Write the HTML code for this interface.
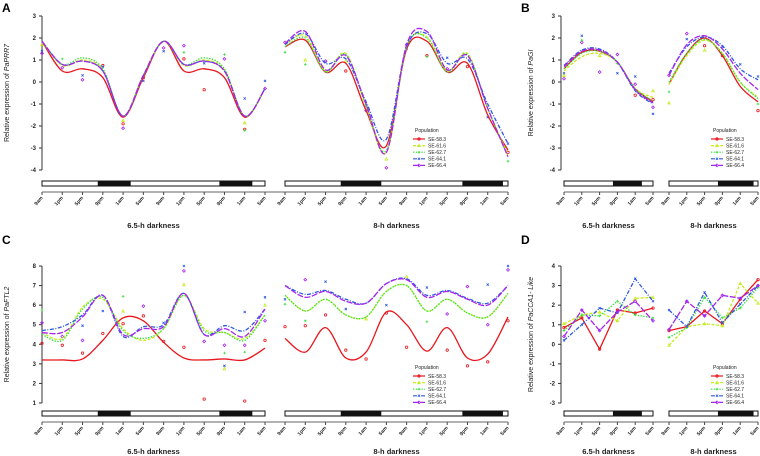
<!DOCTYPE html>
<html><head><meta charset="utf-8">
<style>
html,body{margin:0;padding:0;background:#fff;}
svg{display:block;font-family:"Liberation Sans",Arial,sans-serif;}
</style></head>
<body>
<svg id="fig" width="760" height="456" viewBox="0 0 760 456" xmlns="http://www.w3.org/2000/svg">
<text x="2" y="12" font-size="12" font-weight="bold">A</text>
<text x="521" y="12" font-size="12" font-weight="bold">B</text>
<text x="2" y="244" font-size="12" font-weight="bold">C</text>
<text x="521" y="244" font-size="12" font-weight="bold">D</text>
</svg>
<script>
// ---------- data ----------
const seriesNames = ["SE-58.3","SE-61.6","SE-62.7","SE-64.1","SE-66.4"];
const timeLabels12 = ["9am","1pm","5pm","9pm","1am","5am","9am","1pm","5pm","9pm","1am","5am"];
const timeLabels6 = ["9am","1pm","5pm","9pm","1am","5am"];
const ticksA = [3,2,1,0,-1,-2,-3,-4];
const ticksC = [8,7,6,5,4,3,2,1];
const ticksD = [4,3,2,1,0,-1,-2,-3];
// darkness intervals in hours from 9am
const dark65Long = [[11,17.5],[35,41.5]];
const dark8Long = [[11,19],[35,43]];
const dark65Short = [[11,17.5]];
const dark8Short = [[11,19]];

// Panel A (PaPRR7)
const aLeftRed    = [1.85,0.5,0.6,0.2,-1.6,0.2,1.85,0.5,0.6,0.2,-1.6,-0.3];
const aLeftYellow = [1.85,0.75,1.0,0.55,-1.55,0.3,1.85,0.75,1.0,0.55,-1.55,-0.3];
const aLeftGreen  = [1.85,0.8,1.1,0.6,-1.55,0.3,1.85,0.8,1.1,0.6,-1.55,-0.3];
const aLeftBlue   = [1.85,0.8,0.95,0.5,-1.55,0.3,1.85,0.8,0.95,0.5,-1.55,-0.3];
const aLeftPurple = [1.85,0.8,0.95,0.5,-1.55,0.3,1.85,0.8,0.95,0.5,-1.55,-0.3];
const aRightRed    = [1.6,1.9,0.45,0.85,-1.3,-2.9,1.5,1.85,0.45,0.85,-1.5,-3.1];
const aRightYellow = [1.7,2.1,0.5,1.3,-1.1,-3.2,1.6,2.05,0.5,1.3,-1.2,-3.3];
const aRightGreen  = [1.6,2.0,0.45,1.25,-1.1,-3.1,1.6,2.0,0.45,1.25,-1.2,-3.4];
const aRightBlue   = [1.7,2.2,0.85,1.05,-0.9,-2.6,1.6,2.2,0.85,1.05,-1.0,-2.8];
const aRightPurple = [1.75,2.3,0.55,1.2,-1.0,-3.2,1.7,2.3,0.55,1.2,-1.2,-3.4];
const aPointsLeft = [[0,1.4,3],[0,1.3,4],[0,1.7,1],[1,1.05,2],[1,0.65,4],[2,0.1,4],[2,0.3,3],[3,0.75,0],[3,0.7,3],[4,-1.9,0],[4,-2.1,4],[4,-1.75,1],[5,0.2,0],[5,0.05,3],[6,1.4,3],[6,1.55,4],[7,1.65,4],[7,1.35,2],[7,1.05,0],[8,-0.35,0],[8,0.85,3],[9,1.25,2],[9,1.05,4],[10,-0.75,3],[10,-2.15,0],[10,-2.2,2],[10,-1.85,1],[11,0.05,3],[11,-0.3,4]];
const aPointsRight = [[0,1.35,2],[0,1.8,4],[1,0.8,2],[1,1.0,1],[2,0.9,3],[2,0.95,4],[3,0.5,0],[3,0.95,1],[4,-1.1,3],[4,-1.3,4],[5,-3.9,4],[5,-3.5,1],[6,1.7,4],[6,1.5,3],[7,1.2,0],[7,1.15,2],[8,1.1,3],[8,0.6,4],[9,0.7,0],[10,-1.6,3],[11,-2.8,3],[11,-3.6,2],[11,-3.2,0]];

// Panel B (PaGI)
const bLeftRed    = [0.6,1.35,1.4,0.9,-0.3,-0.9];
const bLeftYellow = [0.5,1.15,1.3,0.9,-0.3,-0.7];
const bLeftGreen  = [0.6,1.3,1.4,0.9,-0.3,-0.85];
const bLeftBlue   = [0.75,1.45,1.5,0.9,-0.4,-1.0];
const bLeftPurple = [0.7,1.4,1.45,0.9,-0.35,-0.95];
const bRightRed    = [-0.1,1.3,2.0,1.2,-0.2,-0.9];
const bRightYellow = [-0.1,1.2,1.9,1.3,0.0,-0.7];
const bRightGreen  = [0.0,1.3,1.95,1.3,0.0,-0.75];
const bRightBlue   = [0.4,1.6,2.05,1.65,0.6,0.1];
const bRightPurple = [0.3,1.7,2.1,1.5,0.4,-0.35];
const bPointsLeft = [[0,0.15,4],[0,0.4,3],[0,0.3,1],[1,2.1,3],[1,1.8,4],[1,1.9,2],[2,0.45,4],[2,1.2,1],[3,1.25,4],[3,0.85,2],[3,0.4,3],[4,-0.6,0],[4,0.25,3],[4,-0.1,4],[5,-1.45,3],[5,-1.15,4],[5,-0.4,1],[5,-0.8,0]];
const bPointsRight = [[0,-0.95,1],[0,-0.45,2],[0,0.3,4],[1,2.2,4],[1,1.95,3],[2,1.45,1],[2,1.65,0],[3,1.2,0],[3,1.6,3],[4,0.8,3],[5,0.25,3],[5,-1.3,0],[5,-1.0,2]];

// Panel C (PaFTL2)
const cLeftRed    = [3.2,3.2,3.25,4.2,5.35,5.2,4.1,3.3,3.2,3.25,3.2,3.8];
const cLeftYellow = [4.6,4.3,5.9,6.3,4.8,4.2,4.8,6.5,4.8,4.6,4.3,5.5];
const cLeftGreen  = [4.5,4.2,5.8,6.4,4.7,4.3,4.8,6.5,4.7,4.6,4.2,5.5];
const cLeftBlue   = [4.7,4.9,5.5,6.5,4.4,4.9,5.0,6.6,4.5,4.95,4.7,5.8];
const cLeftPurple = [4.6,4.6,5.4,6.5,4.5,4.8,4.9,6.6,4.5,4.8,4.4,5.8];
const cRightRed    = [4.3,3.6,4.85,3.3,3.6,5.65,5.0,3.65,4.85,3.3,3.5,5.4];
const cRightYellow = [6.5,5.7,6.3,5.5,5.4,6.7,7.0,5.7,6.3,5.6,5.4,6.6];
const cRightGreen  = [6.5,5.7,6.3,5.5,5.4,6.7,7.0,5.7,6.3,5.6,5.4,6.6];
const cRightBlue   = [7.0,6.55,6.75,6.3,6.1,7.1,7.35,6.5,6.75,6.35,6.1,7.0];
const cRightPurple = [7.0,6.4,6.7,6.2,6.1,7.1,7.3,6.4,6.7,6.3,6.0,7.0];
const cPointsLeft = [[0,5.75,2],[0,4.05,0],[0,5.1,4],[1,3.95,0],[1,4.4,4],[2,3.55,0],[2,4.2,4],[2,4.95,3],[3,4.55,0],[3,5.7,3],[4,6.45,2],[4,5.05,0],[4,5.7,1],[5,5.95,4],[5,5.45,0],[6,4.15,0],[6,5.1,3],[7,8.0,3],[7,7.75,4],[7,7.05,1],[7,3.85,0],[8,1.2,0],[8,4.15,4],[9,3.95,4],[9,2.75,1],[9,2.9,3],[9,3.55,2],[10,1.1,0],[10,5.65,3],[10,3.95,4],[10,3.6,2],[11,6.4,3],[11,6.0,1],[11,4.2,0],[11,5.2,4]];
const cPointsRight = [[0,4.9,0],[0,6.3,3],[0,6.05,2],[1,7.3,4],[1,4.95,0],[1,5.2,2],[2,7.2,3],[2,5.5,0],[3,5.8,3],[3,3.7,0],[4,3.25,0],[4,5.3,1],[5,6.0,3],[5,5.6,0],[6,7.45,1],[6,3.85,0],[7,6.9,3],[7,5.15,2],[8,3.7,0],[8,5.55,4],[9,6.95,4],[9,2.9,0],[10,7.05,3],[10,5.0,4],[10,3.1,0],[11,8.0,3],[11,7.8,4],[11,5.2,0]];

// Panel D (PaCCA1-Like)
const dLeftRed    = [0.85,1.35,-0.25,1.75,1.6,1.85];
const dLeftYellow = [1.05,1.5,1.65,1.2,2.35,2.4];
const dLeftGreen  = [0.7,1.5,1.45,2.2,1.5,1.35];
const dLeftBlue   = [0.2,1.0,1.85,1.6,3.35,2.2];
const dLeftPurple = [0.4,1.75,0.7,1.65,2.2,1.2];
const dRightRed    = [0.7,0.9,1.7,1.05,2.3,3.3];
const dRightYellow = [-0.05,0.9,1.05,0.95,3.1,2.1];
const dRightGreen  = [0.35,0.85,2.4,1.35,1.85,2.9];
const dRightBlue   = [1.75,0.9,2.65,1.1,2.05,3.0];
const dRightPurple = [0.75,2.2,1.45,2.5,2.35,3.0];

// ---------- styles ----------
const colors = ["#e8161e","#c6ec1c","#33e03a","#2e58e0","#a625ee"];
const dashes = ["", "3,1.6", "1.4,1.4", "4,1.5,1,1.5", "6,1.6"];
const NS = "http://www.w3.org/2000/svg";
const svg = document.getElementById("fig");

function mk(tag, attrs, parent){
  const e = document.createElementNS(NS, tag);
  for (const k in attrs) e.setAttribute(k, attrs[k]);
  (parent||svg).appendChild(e);
  return e;
}
function catmull(pts){
  let d = "M"+pts[0][0].toFixed(2)+","+pts[0][1].toFixed(2);
  for (let i=0;i<pts.length-1;i++){
    const p0=pts[Math.max(0,i-1)], p1=pts[i], p2=pts[i+1], p3=pts[Math.min(pts.length-1,i+2)];
    const c1x=p1[0]+(p2[0]-p0[0])/6, c1y=p1[1]+(p2[1]-p0[1])/6;
    const c2x=p2[0]-(p3[0]-p1[0])/6, c2y=p2[1]-(p3[1]-p1[1])/6;
    d += " C"+c1x.toFixed(2)+","+c1y.toFixed(2)+" "+c2x.toFixed(2)+","+c2y.toFixed(2)+" "+p2[0].toFixed(2)+","+p2[1].toFixed(2);
  }
  return d;
}
function marker(g, x, y, si){
  const c = colors[si];
  if (si===0){ const m = mk("circle",{cx:x,cy:y,r:1.2,fill:"none",stroke:c,"stroke-width":0.8},g);   }
  else if (si===1){ const m = mk("path",{d:`M${x-1.3},${y+1.1}L${x},${y-1.3}L${x+1.3},${y+1.1}Z`,fill:"none",stroke:c,"stroke-width":0.8},g);   }
  else if (si===2){ const m = mk("path",{d:`M${x-1.3},${y}H${x+1.3}M${x},${y-1.3}V${y+1.3}`,stroke:c,"stroke-width":0.8},g);   }
  else if (si===3){ const m = mk("path",{d:`M${x-1.1},${y-1.1}L${x+1.1},${y+1.1}M${x-1.1},${y+1.1}L${x+1.1},${y-1.1}`,stroke:c,"stroke-width":0.8},g);   }
  else { const m = mk("path",{d:`M${x},${y-1.4}L${x+1.4},${y}L${x},${y+1.4}L${x-1.4},${y}Z`,fill:"none",stroke:c,"stroke-width":0.8},g);   }
}

function drawPanel(p){
  const g = mk("g",{});
  
  
  const yScale = v => p.yTop + (p.ticks[0]-v)*(p.yBot-p.yTop)/(p.ticks[0]-p.ticks[p.ticks.length-1]);
  // y axis
  const ya = mk("line",{x1:p.axisX,y1:p.yTop,x2:p.axisX,y2:p.yBot,stroke:"#333","stroke-width":1},g);
   
  p.ticks.forEach(t=>{
    const y=yScale(t);
    const tl = mk("line",{x1:p.axisX-3,y1:y,x2:p.axisX,y2:y,stroke:"#333","stroke-width":1},g);
     
    const tx = mk("text",{x:p.axisX-6,y:y+2,"font-size":6,"font-weight":"bold","text-anchor":"end",fill:"#222"},g);
    tx.textContent = String(t);
     
  });
  // y title
  const yt = mk("text",{transform:`translate(${p.titleX},${(p.yTop+p.yBot)/2}) rotate(-90)`,"font-size":7,"text-anchor":"middle",fill:"#222"},g);
   
  yt.appendChild(document.createTextNode("Relative expression of "));
  const it = mk("tspan",{"font-style":"italic"},yt); it.textContent = p.gene;
  // x axis baseline
  const xa = mk("line",{x1:p.blocks[0].x0,y1:p.axisY,x2:p.blocks[p.blocks.length-1].x1,y2:p.axisY,stroke:"#666","stroke-width":1},g);
   
  p.blocks.forEach(b=>{
    const n = b.labels.length;
    const xScale = i => b.x0 + i*(b.x1-b.x0)/(n-1);
    const hScale = h => b.x0 + h*(b.x1-b.x0)/b.hours;
    // light/dark bar
    const bar = mk("rect",{x:b.x0,y:p.barY,width:b.x1-b.x0,height:5,fill:"#fff",stroke:"#111","stroke-width":1},g);
     
    b.dark.forEach(d=>{
      const r = mk("rect",{x:hScale(d[0]),y:p.barY,width:hScale(d[1])-hScale(d[0]),height:5,fill:"#111"},g);
       
    });
    b.labels.forEach((lb,i)=>{
      const x=xScale(i);
      const tk = mk("line",{x1:x,y1:p.axisY,x2:x,y2:p.axisY+3,stroke:"#444","stroke-width":1},g);
       
      const tx = mk("text",{transform:`translate(${x+1},${p.axisY+6}) rotate(-50)`,"font-size":5,"font-weight":"bold","text-anchor":"end",fill:"#222"},g);
      tx.textContent = lb;
       
    });
    const bt = mk("text",{x:(b.x0+b.x1)/2,y:p.blockTitleY,"font-size":7.5,"font-weight":"bold","text-anchor":"middle",fill:"#222"},g);
    bt.textContent = b.title;
     
    // points
    (b.points||[]).forEach(pt=>{ marker(g, xScale(pt[0]), yScale(pt[1]), pt[2]); });
    // series
    b.series.forEach((vals,si)=>{
      const pts = vals.map((v,i)=>[xScale(i),yScale(v)]);
      const d = p.straight ? "M"+pts.map(q=>q[0].toFixed(2)+","+q[1].toFixed(2)).join("L") : catmull(pts);
      const path = mk("path",{d:d,fill:"none",stroke:colors[si],"stroke-width":1.3,"stroke-dasharray":dashes[si]},g);
      
      
      if (p.straight) pts.forEach(q=>marker(g,q[0],q[1],si));
    });
  });
  // legend
  const lg = mk("g",{},g);
   
  const lt = mk("text",{x:p.legX+2,y:p.legY,"font-size":5,fill:"#222"},lg);
  lt.textContent = "Population";
   
  seriesNames.forEach((nm,si)=>{
    const y = p.legY + 7 + si*6.6;
    const ln = mk("line",{x1:p.legX,y1:y,x2:p.legX+12,y2:y,stroke:colors[si],"stroke-width":1.2,"stroke-dasharray":dashes[si]},lg);
     
    marker(lg,p.legX+6,y,si);
    const tx = mk("text",{x:p.legX+15,y:y+1.8,"font-size":5,fill:"#222"},lg);
    tx.textContent = nm;
     
  });
}

drawPanel({name:"panel-a-prr7",gene:"PaPRR7",ticks:ticksA,yTop:16,yBot:170,axisX:42,titleX:9,axisY:192,barY:181,blockTitleY:228,
  legX:413,legY:132,
  blocks:[
    {x0:42,x1:265,hours:44,labels:timeLabels12,dark:dark65Long,title:"6.5-h darkness",points:aPointsLeft,series:[aLeftRed,aLeftYellow,aLeftGreen,aLeftBlue,aLeftPurple]},
    {x0:285,x1:508,hours:44,labels:timeLabels12,dark:dark8Long,title:"8-h darkness",points:aPointsRight,series:[aRightRed,aRightYellow,aRightGreen,aRightBlue,aRightPurple]}
  ]});
drawPanel({name:"panel-b-gi",gene:"PaGI",ticks:ticksA,yTop:16,yBot:170,axisX:561,titleX:533,axisY:192,barY:181,blockTitleY:228,
  legX:711,legY:132,
  blocks:[
    {x0:564,x1:653,hours:20,labels:timeLabels6,dark:dark65Short,title:"6.5-h darkness",points:bPointsLeft,series:[bLeftRed,bLeftYellow,bLeftGreen,bLeftBlue,bLeftPurple]},
    {x0:669,x1:758,hours:20,labels:timeLabels6,dark:dark8Short,title:"8-h darkness",points:bPointsRight,series:[bRightRed,bRightYellow,bRightGreen,bRightBlue,bRightPurple]}
  ]});
drawPanel({name:"panel-c-ftl2",gene:"PaFTL2",ticks:ticksC,yTop:266,yBot:403,axisX:42,titleX:9,axisY:422,barY:411,blockTitleY:454,
  legX:413,legY:369,
  blocks:[
    {x0:42,x1:265,hours:44,labels:timeLabels12,dark:dark65Long,title:"6.5-h darkness",points:cPointsLeft,series:[cLeftRed,cLeftYellow,cLeftGreen,cLeftBlue,cLeftPurple]},
    {x0:285,x1:508,hours:44,labels:timeLabels12,dark:dark8Long,title:"8-h darkness",points:cPointsRight,series:[cRightRed,cRightYellow,cRightGreen,cRightBlue,cRightPurple]}
  ]});
drawPanel({name:"panel-d-cca1",gene:"PaCCA1- Like",ticks:ticksD,yTop:266,yBot:403,axisX:561,titleX:533,axisY:422,barY:411,blockTitleY:454,
  legX:711,legY:369,straight:true,
  blocks:[
    {x0:564,x1:653,hours:20,labels:timeLabels6,dark:dark65Short,title:"6.5-h darkness",series:[dLeftRed,dLeftYellow,dLeftGreen,dLeftBlue,dLeftPurple]},
    {x0:669,x1:758,hours:20,labels:timeLabels6,dark:dark8Short,title:"8-h darkness",series:[dRightRed,dRightYellow,dRightGreen,dRightBlue,dRightPurple]}
  ]});
</script>
</body></html>
